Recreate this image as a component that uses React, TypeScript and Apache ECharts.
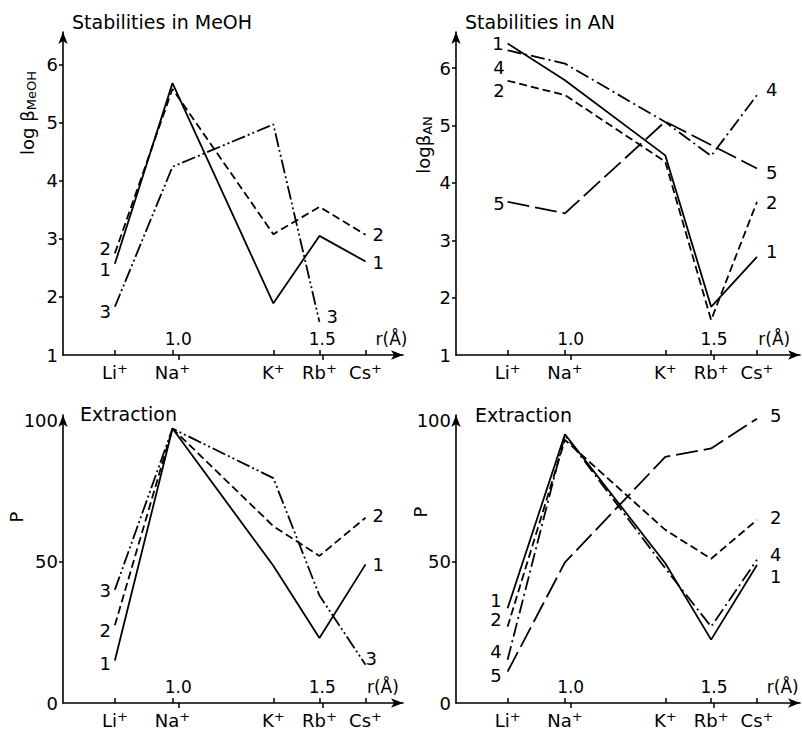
import React, { useEffect, useRef } from 'react';
import * as echarts from 'echarts';

const FONT = '"DejaVu Sans", sans-serif';

// Cations and their (Goldschmidt) ionic radii in Å
const ions = ['Li', 'Na', 'K', 'Rb', 'Cs'];
const radii = [0.78, 0.98, 1.33, 1.49, 1.65];
const radiusTicks = [1.0, 1.5];
const logTicks = [1, 2, 3, 4, 5, 6];
const logTickMarks = [2, 3, 4, 5, 6];
const pTicks = [0, 50, 100];
const pTickMarks = [50];

// Stabilities in MeOH (log beta)
const meohLogB1 = [2.57, 5.68, 1.89, 3.05, 2.61];
const meohLogB2 = [2.75, 5.58, 3.08, 3.55, 3.07];
const meohLogB3 = [1.83, 4.24, 4.97, 1.57, null];
// Stabilities in AN (log beta)
const anLogB1 = [6.43, 5.79, 4.48, 1.84, 2.71];
const anLogB2 = [5.78, 5.53, 4.37, 1.61, 3.67];
const anLogB4 = [6.31, 6.08, 5.06, 4.47, 5.53];
const anLogB5 = [3.67, 3.47, 5.07, 4.66, 4.25];
// Extraction P (%), left panel
const meohP1 = [15, 97, 48.5, 23, 49];
const meohP2 = [27.5, 97, 62.5, 52, 65.5];
const meohP3 = [40, 97, 79.5, 38, 13.5];
// Extraction P (%), right panel
const anP1 = [33.5, 95, 49.4, 22.4, 48.8];
const anP2 = [27, 93, 61.2, 51, 64.7];
const anP4 = [15.3, 94.7, 47.6, 27, 50.6];
const anP5 = [11.1, 49.7, 87, 90, 100.5];

const DASHED = [8, 4];
const DASH_DOT_DOT = [14, 3, 2, 3, 2, 3];
const DASH_DOT = [14, 4, 2, 4];
const LONG_DASH = [22, 6];

type Lbl = { t: string; pos: 'left' | 'right'; d: number; off: [number, number] };

const panels = [
  { left: 63, top: 32, width: 340, height: 323, xMax: 1.78, yMin: 1, yMax: 6.56, yTicks: logTicks, yMarks: logTickMarks, rPos: 1.74 },
  { left: 456, top: 32, width: 344, height: 323, xMax: 1.8, yMin: 1, yMax: 6.63, yTicks: logTicks, yMarks: logTickMarks, rPos: 1.71 },
  { left: 63, top: 415, width: 340, height: 288, xMax: 1.78, yMin: 0, yMax: 101.8, yTicks: pTicks, yMarks: pTickMarks, rPos: 1.71 },
  { left: 456, top: 415, width: 344, height: 288, xMax: 1.8, yMin: 0, yMax: 101.8, yTicks: pTicks, yMarks: pTickMarks, rPos: 1.74 },
];

const L = (t: string, off: [number, number], d = 4): Lbl => ({ t, pos: 'left', d, off });
const R = (t: string, off: [number, number], d = 7): Lbl => ({ t, pos: 'right', d, off });

const seriesDefs: { p: number; v: (number | null)[]; dash: any; s: Lbl; e: Lbl }[] = [
  { p: 0, v: meohLogB1, dash: 'solid', s: L('1', [0, 6]), e: R('1', [0, 1]) },
  { p: 0, v: meohLogB2, dash: DASHED, s: L('2', [0, -5]), e: R('2', [0, 0]) },
  { p: 0, v: meohLogB3, dash: DASH_DOT_DOT, s: L('3', [0, 5]), e: R('3', [0, -5]) },
  { p: 1, v: anLogB1, dash: 'solid', s: L('1', [0, 0], 4), e: R('1', [0, -5], 9) },
  { p: 1, v: anLogB2, dash: DASHED, s: L('2', [0, 10], 3), e: R('2', [0, 1], 9) },
  { p: 1, v: anLogB4, dash: DASH_DOT, s: L('4', [0, 17], 3), e: R('4', [0, -6], 9) },
  { p: 1, v: anLogB5, dash: LONG_DASH, s: L('5', [0, 2], 3), e: R('5', [0, 4], 9) },
  { p: 2, v: meohP1, dash: 'solid', s: L('1', [0, 3]), e: R('1', [0, 0]) },
  { p: 2, v: meohP2, dash: DASHED, s: L('2', [0, 5]), e: R('2', [0, -2]) },
  { p: 2, v: meohP3, dash: DASH_DOT_DOT, s: L('3', [0, 1]), e: R('3', [0, -6], 0) },
  { p: 3, v: anP1, dash: 'solid', s: L('1', [0, -8], 6), e: R('1', [0, 12], 13) },
  { p: 3, v: anP2, dash: DASHED, s: L('2', [0, -7], 6), e: R('2', [0, -2], 13) },
  { p: 3, v: anP4, dash: DASH_DOT, s: L('4', [0, -8], 6), e: R('4', [0, -5], 13) },
  { p: 3, v: anP5, dash: LONG_DASH, s: L('5', [0, 4], 6), e: R('5', [0, -3], 13) },
];

const txt = { color: '#000', fontFamily: FONT, fontSize: 18 };

function labelOf(l: Lbl) {
  return { show: true, formatter: l.t, position: l.pos, distance: l.d, offset: l.off, ...txt };
}

function buildOption() {
  const grid = panels.map((p) => ({ left: p.left, top: p.top, width: p.width, height: p.height }));
  const xAxis: any[] = [];
  const yAxis: any[] = [];
  panels.forEach((p, i) => {
    xAxis.push({
      type: 'value', gridIndex: i, position: 'bottom', min: 0.6, max: p.xMax,
      axisLine: { show: true, symbol: ['none', 'arrow'], symbolSize: [7, 12], lineStyle: { color: '#000', width: 1.6 } },
      axisTick: { show: true, inside: true, length: 5, customValues: radii, lineStyle: { color: '#000', width: 1.5 } },
      axisLabel: {
        show: true, customValues: radii, margin: 7,
        formatter: (v: number) => {
          const k = radii.findIndex((r) => Math.abs(r - v) < 1e-6);
          return k >= 0 ? `{a|${ions[k]}}{s|+}` : '';
        },
        rich: {
          a: { ...txt, fontSize: 18, lineHeight: 20 },
          s: { ...txt, fontSize: 13, verticalAlign: 'top', lineHeight: 12 },
        },
      },
      splitLine: { show: false },
    });
    xAxis.push({
      type: 'value', gridIndex: i, position: 'bottom', min: 0.6, max: p.xMax,
      axisLine: { show: false },
      axisTick: { show: true, inside: false, length: 5, customValues: radiusTicks, lineStyle: { color: '#000', width: 1.5 } },
      axisLabel: {
        show: true, inside: true, margin: 8, customValues: [...radiusTicks, p.rPos],
        formatter: (v: number) => (Math.abs(v - p.rPos) < 1e-6 ? 'r(Å)' : v.toFixed(1)),
        ...txt, fontSize: 17,
      },
      splitLine: { show: false },
    });
    yAxis.push({
      type: 'value', gridIndex: i, min: p.yMin, max: p.yMax,
      axisLine: { show: true, symbol: ['none', 'arrow'], symbolSize: [7, 12], lineStyle: { color: '#000', width: 1.6 } },
      axisTick: { show: true, length: 4, customValues: p.yMarks, lineStyle: { color: '#000', width: 1.5 } },
      axisLabel: { show: true, customValues: p.yTicks, margin: 5, ...txt, fontSize: 18 },
      splitLine: { show: false },
    });
  });

  const series = seriesDefs.map((d) => {
    const pts: any[] = [];
    d.v.forEach((y, k) => {
      if (y !== null) pts.push({ value: [radii[k], y] });
    });
    pts[0].label = labelOf(d.s);
    pts[pts.length - 1].label = labelOf(d.e);
    return {
      type: 'line', xAxisIndex: d.p * 2, yAxisIndex: d.p, data: pts,
      symbol: 'circle', symbolSize: 0, showSymbol: true, silent: true,
      lineStyle: { color: '#000', width: 1.8, type: d.dash },
      label: { show: false },
    };
  });

  const titleStyle = { fill: '#000', font: `19px ${FONT}`, textVerticalAlign: 'middle' };
  const graphic: any[] = [
    { type: 'text', x: 72, y: 22, style: { ...titleStyle, text: 'Stabilities in MeOH' } },
    { type: 'text', x: 465, y: 22, style: { ...titleStyle, text: 'Stabilities in AN' } },
    { type: 'text', x: 80, y: 414, style: { ...titleStyle, text: 'Extraction' } },
    { type: 'text', x: 475, y: 415, style: { ...titleStyle, text: 'Extraction' } },
    {
      type: 'text', x: 27, y: 113, rotation: Math.PI / 2,
      style: {
        text: '{a|log β}{s|MeOH}', align: 'center', verticalAlign: 'middle',
        rich: { a: { fill: '#000', fontFamily: FONT, fontSize: 18, lineHeight: 22 }, s: { fill: '#000', fontFamily: FONT, fontSize: 13, verticalAlign: 'bottom', lineHeight: 14 } },
      },
    },
    {
      type: 'text', x: 423, y: 145, rotation: Math.PI / 2,
      style: {
        text: '{a|logβ}{s|AN}', align: 'center', verticalAlign: 'middle',
        rich: { a: { fill: '#000', fontFamily: FONT, fontSize: 18, lineHeight: 22 }, s: { fill: '#000', fontFamily: FONT, fontSize: 13, verticalAlign: 'bottom', lineHeight: 14 } },
      },
    },
    { type: 'text', x: 16, y: 517, rotation: Math.PI / 2, style: { text: 'P', fill: '#000', font: `18px ${FONT}`, align: 'center', verticalAlign: 'middle' } },
    { type: 'text', x: 420, y: 512, rotation: Math.PI / 2, style: { text: 'P', fill: '#000', font: `18px ${FONT}`, align: 'center', verticalAlign: 'middle' } },
  ];

  return { animation: false, backgroundColor: '#fff', grid, xAxis, yAxis, series, graphic };
}

export default function App() {
  const ref = useRef<HTMLDivElement>(null);
  useEffect(() => {
    if (!ref.current) return;
    const chart = echarts.init(ref.current, undefined, { renderer: 'svg' });
    chart.setOption(buildOption() as any);
    return () => chart.dispose();
  }, []);
  return <div ref={ref} style={{ position: 'absolute', left: 0, top: 0, width: 802, height: 733, background: '#fff' }} />;
}
